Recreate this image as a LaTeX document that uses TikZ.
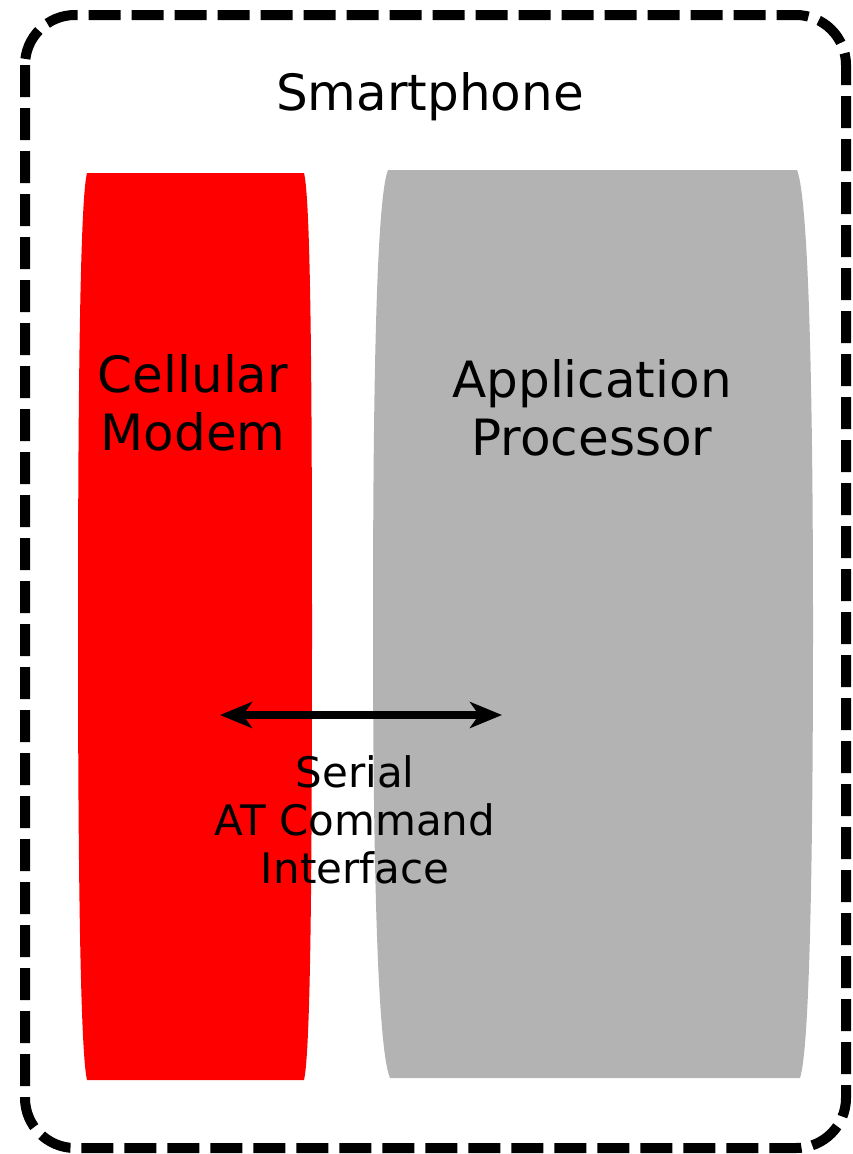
\documentclass[tikz,border=0pt]{standalone}
\usepackage{fontspec}
\setmainfont{DejaVu Sans}
\usetikzlibrary{arrows.meta}

\definecolor{modemred}{HTML}{FF0000}
\definecolor{apgrey}{HTML}{B3B3B3}

\tikzset{
  frame/.style={line width=10pt, dash pattern=on 32pt off 11pt, rounded corners=50pt},
  block/.style={draw=none},
  bigtext/.style={font=\fontsize{50}{57.5}\selectfont, align=center, inner sep=0pt, text=black},
  smalltext/.style={font=\fontsize{42}{48.3}\selectfont, align=center, inner sep=0pt, text=black},
  link/.style={line width=8pt, {Stealth[length=32pt,width=26pt,inset=9pt]}-{Stealth[length=32pt,width=26pt,inset=9pt]}}
}

\begin{document}
\begin{tikzpicture}[x=1pt, y=-1pt]
  \useasboundingbox (0,0) rectangle (852,1154);

  % outer phone frame
  \draw[frame] (25,15) rectangle (846,1148);

  % cellular modem block (barrel outline)
  \fill[modemred, block] (87,173) -- (304,173)
    .. controls (311,200) and (312,400) .. (312,627)
    .. controls (312,850) and (311,1050) .. (304,1080)
    -- (87,1080)
    .. controls (80,1050) and (78,850) .. (78,627)
    .. controls (78,400) and (80,200) .. (87,173) -- cycle;

  % application processor block
  \fill[apgrey, block] (388,170) -- (797,170)
    .. controls (809,200) and (813,400) .. (813,624)
    .. controls (813,850) and (810,1048) .. (800,1078)
    -- (390,1078)
    .. controls (377,1048) and (373,850) .. (373,624)
    .. controls (373,400) and (376,200) .. (388,170) -- cycle;

  % labels
  \node[bigtext, anchor=base] (phone) at (430,110) {Smartphone};
  \node[bigtext] (modem) at (193,403) {Cellular\\Modem};
  \node[bigtext] (ap) at (592,408) {Application\\Processor};
  \node[smalltext] (serial) at (355,820) {Serial\\AT Command\\Interface};

  % serial link between the two processors
  \coordinate (modemport) at (220,715);
  \coordinate (apport) at (502,715);
  \draw[link] (modemport) -- (apport);
\end{tikzpicture}
\end{document}
